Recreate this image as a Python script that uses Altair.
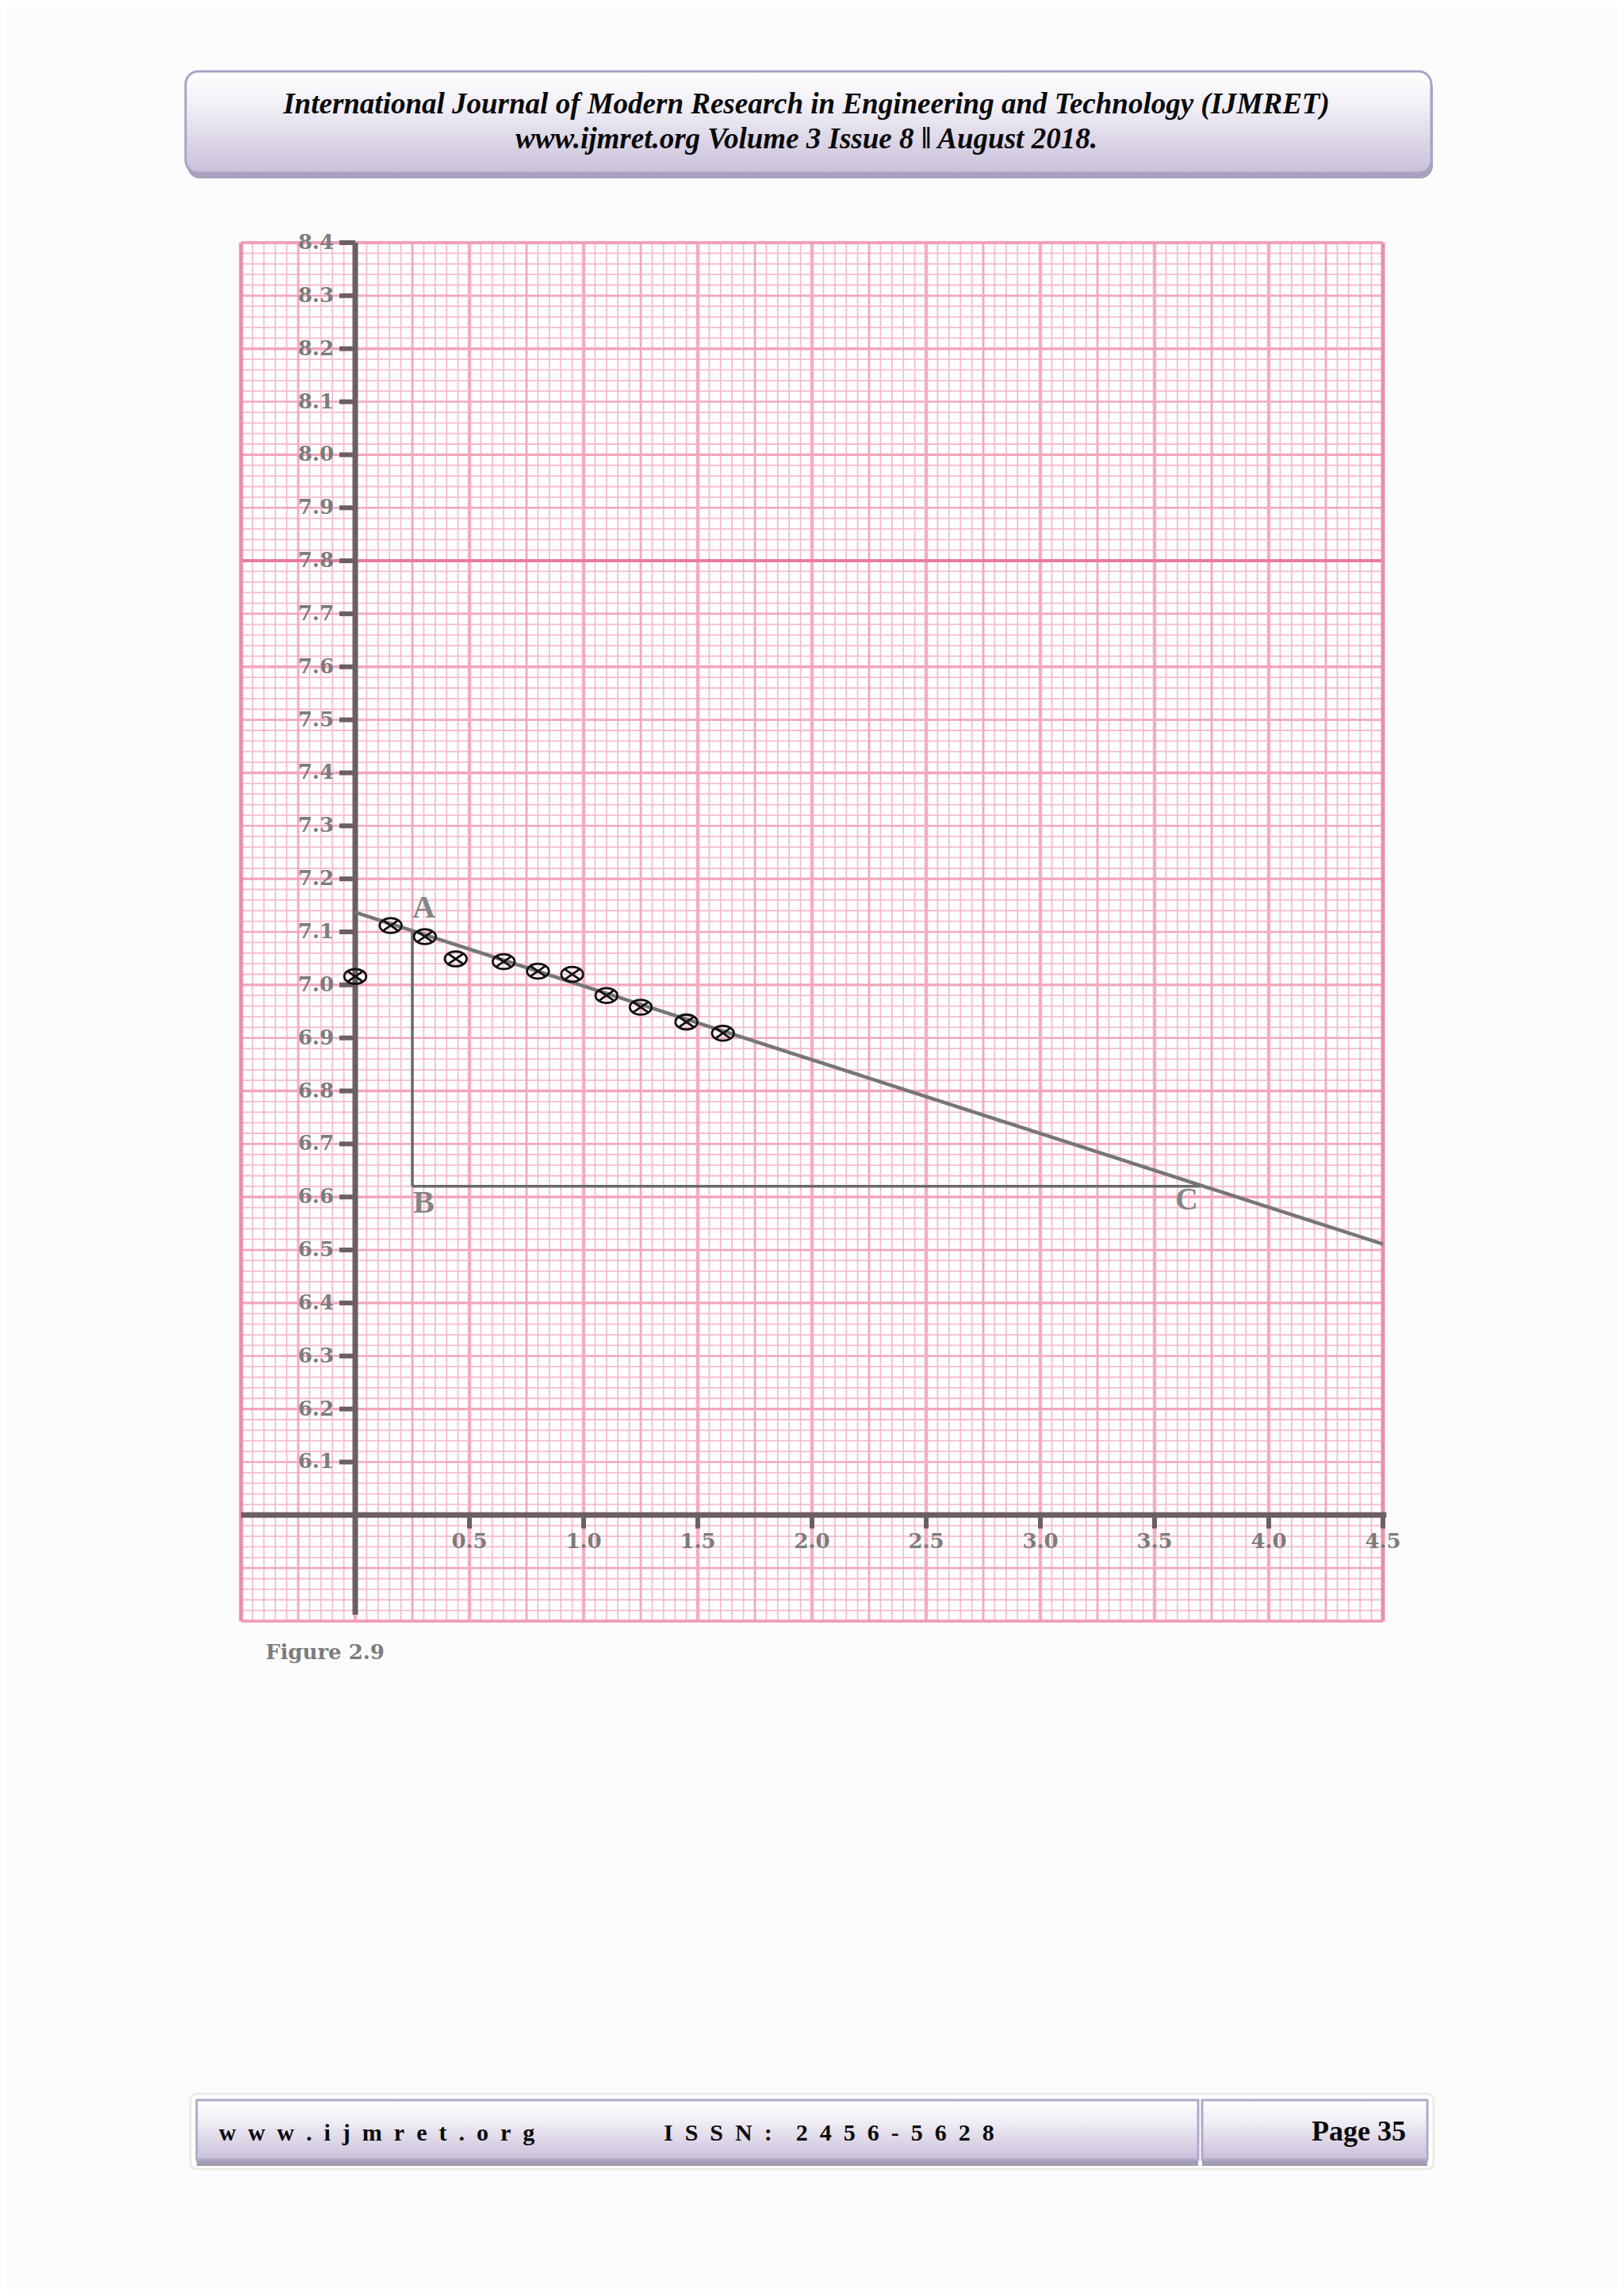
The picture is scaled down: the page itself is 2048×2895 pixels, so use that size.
import altair as alt
import numpy as np
import pandas as pd

# ---------------- data ----------------
pt_x = [0.0, 0.155, 0.305, 0.44, 0.65, 0.80, 0.95, 1.10, 1.25, 1.45, 1.61]
pt_y = [7.016, 7.112, 7.091, 7.049, 7.044, 7.026, 7.020, 6.980, 6.958, 6.930, 6.909]

fit_x = [0.0, 4.5]
fit_y = [7.137, 6.511]

tri_vert_x = [0.25]
tri_vert_y = [7.102]
tri_vert_y2 = [6.62]
tri_hor_x = [0.25]
tri_hor_x2 = [3.70]
tri_hor_y = [6.62]

letters = ["A", "B", "C"]
letter_x = [0.30, 0.30, 3.64]
letter_y = [7.145, 6.588, 6.594]

y_tick_labels = ["6.1", "6.2", "6.3", "6.4", "6.5", "6.6", "6.7", "6.8", "6.9", "7.0",
                 "7.1", "7.2", "7.3", "7.4", "7.5", "7.6", "7.7", "7.8", "7.9", "8.0",
                 "8.1", "8.2", "8.3", "8.4"]
x_tick_labels = ["0.5", "1.0", "1.5", "2.0", "2.5", "3.0", "3.5", "4.0", "4.5"]

X_MIN, X_MAX = -0.5, 4.5
Y_MIN, Y_MAX = 5.8, 8.4

# ---------------- scales ----------------
xs = alt.Scale(domain=[X_MIN, X_MAX], nice=False, zero=False)
ys = alt.Scale(domain=[Y_MIN, Y_MAX], nice=False, zero=False)

def X(f="x"):
    return alt.X(f + ":Q", scale=xs, axis=None)

def Y(f="y"):
    return alt.Y(f + ":Q", scale=ys, axis=None)

# ---------------- graph-paper grid ----------------
vx = np.round(np.arange(0, 101) * 0.05 + X_MIN, 3)
v_idx = np.arange(0, 101)
v_minor = pd.DataFrame({"x": vx[(v_idx % 5) != 0]})
v_med = pd.DataFrame({"x": vx[((v_idx % 5) == 0) & ((v_idx % 10) != 0)]})
v_major = pd.DataFrame({"x": vx[((v_idx % 10) == 0) & (v_idx != 0) & (v_idx != 100)]})

hy = np.round(np.arange(0, 131) * 0.02 + Y_MIN, 3)
h_idx = np.arange(0, 131)
h_minor = pd.DataFrame({"y": hy[(h_idx % 5) != 0]})
h_med = pd.DataFrame({"y": hy[((h_idx % 5) == 0) & ((h_idx % 10) != 0)]})
h_major = pd.DataFrame({"y": hy[((h_idx % 10) == 0) & (h_idx != 0) & (h_idx != 130) & (hy != 7.8)]})

layers = []
layers.append(alt.Chart(v_minor).mark_rule(color="#f7bccd", strokeWidth=1.8).encode(x=X()))
layers.append(alt.Chart(h_minor).mark_rule(color="#f7bccd", strokeWidth=1.8).encode(y=Y()))
layers.append(alt.Chart(v_med).mark_rule(color="#f2a8be", strokeWidth=2.8).encode(x=X()))
layers.append(alt.Chart(h_med).mark_rule(color="#f2a8be", strokeWidth=2.6).encode(y=Y()))
layers.append(alt.Chart(v_major).mark_rule(color="#f4adc2", strokeWidth=4.5).encode(x=X()))
layers.append(alt.Chart(h_major).mark_rule(color="#f2a6bc", strokeWidth=3.4).encode(y=Y()))
layers.append(alt.Chart(pd.DataFrame({"y": [7.8]})).mark_rule(color="#e97aa0", strokeWidth=4).encode(y=Y()))
layers.append(alt.Chart(pd.DataFrame({"x": [X_MIN, X_MAX]})).mark_rule(color="#ec8dac", strokeWidth=5).encode(x=X()))
layers.append(alt.Chart(pd.DataFrame({"y": [Y_MIN, Y_MAX]})).mark_rule(color="#f0a0b8", strokeWidth=4).encode(y=Y()))

# ---------------- axes drawn through the origin ----------------
AXC = "#6c5e64"
layers.append(alt.Chart(pd.DataFrame({"x": [0.0], "y": [5.812], "y2": [Y_MAX]})).mark_rule(
    color=AXC, strokeWidth=7).encode(x=X(), y=Y(), y2="y2:Q"))
layers.append(alt.Chart(pd.DataFrame({"x": [X_MIN], "x2": [4.515], "y": [6.0]})).mark_rule(
    color=AXC, strokeWidth=7).encode(x=X(), x2="x2:Q", y=Y()))

yt = pd.DataFrame({"y": [float(s) for s in y_tick_labels], "lab": y_tick_labels, "x": 0.0})
xt = pd.DataFrame({"x": [float(s) for s in x_tick_labels], "lab": x_tick_labels, "y": 6.0})

TLC = "#7c7c7c"
layers.append(alt.Chart(yt).mark_tick(orient="horizontal", size=20, thickness=6, xOffset=-10,
                                      color=AXC, opacity=1).encode(x=X(), y=Y()))
layers.append(alt.Chart(xt).mark_tick(orient="vertical", size=14, thickness=6, yOffset=10,
                                      color=AXC, opacity=1).encode(x=X(), y=Y()))
layers.append(alt.Chart(yt).mark_text(align="right", baseline="middle", dx=-27, font="DejaVu Serif",
                                      fontWeight="bold", fontSize=26, color=TLC).encode(
    x=X(), y=Y(), text="lab:N"))
layers.append(alt.Chart(xt).mark_text(align="center", baseline="top", dy=21, font="DejaVu Serif",
                                      fontWeight="bold", fontSize=26, color=TLC).encode(
    x=X(), y=Y(), text="lab:N"))

# ---------------- fitted line and triangle ----------------
layers.append(alt.Chart(pd.DataFrame({"x": fit_x, "y": fit_y})).mark_line(
    color="#767676", strokeWidth=4.5, strokeCap="butt").encode(x=X(), y=Y()))
layers.append(alt.Chart(pd.DataFrame({"x": tri_vert_x, "y": tri_vert_y, "y2": tri_vert_y2})).mark_rule(
    color="#6a6a6a", strokeWidth=3.5).encode(x=X(), y=Y(), y2="y2:Q"))
layers.append(alt.Chart(pd.DataFrame({"x": tri_hor_x, "x2": tri_hor_x2, "y": tri_hor_y})).mark_rule(
    color="#6a6a6a", strokeWidth=3.5).encode(x=X(), x2="x2:Q", y=Y()))

# ---------------- points (circle with a cross) ----------------
otimes = ("M -1 0 A 1 0.68 0 1 0 1 0 A 1 0.68 0 1 0 -1 0 Z "
          "M -0.7 -0.48 L 0.7 0.48 M -0.7 0.48 L 0.7 -0.48")
layers.append(alt.Chart(pd.DataFrame({"x": pt_x, "y": pt_y})).mark_point(
    shape=otimes, size=760, filled=False, stroke="#111111", strokeWidth=2.8, opacity=1).encode(
    x=X(), y=Y()))

layers.append(alt.Chart(pd.DataFrame({"x": letter_x, "y": letter_y, "t": letters})).mark_text(
    font="Liberation Serif", fontWeight="bold", fontSize=40, color="#858585",
    align="center", baseline="middle").encode(x=X(), y=Y(), text="t:N"))

# ---------------- page decorations (header, caption, footer) ----------------
one = pd.DataFrame({"a": [0]})
lav = {"gradient": "linear", "x1": 0, "y1": 0, "x2": 0, "y2": 1,
       "stops": [{"offset": 0, "color": "#ffffff"}, {"offset": 0.35, "color": "#f1eef5"},
                 {"offset": 1, "color": "#c9c0da"}]}

def box(x1, x2, y1, y2, **kw):
    return alt.Chart(one).mark_rect(**kw).encode(
        x=alt.value(x1), x2=alt.value(x2), y=alt.value(y1), y2=alt.value(y2))

def txt(x, y, s, **kw):
    return alt.Chart(one).mark_text(text=s, **kw).encode(x=alt.value(x), y=alt.value(y))

# header
layers.append(box(-68, 1503, -210, -81, fill="#a9a1ba", cornerRadius=16))
layers.append(box(-70, 1501, -216, -88, fill=lav, stroke="#aca1c6", strokeWidth=3, cornerRadius=16))
hfont = dict(font="Liberation Serif", fontStyle="italic", fontWeight="bold", fontSize=37,
             color="#0a0a0a", align="center", baseline="alphabetic")
layers.append(txt(713, -163, "International Journal of Modern Research in Engineering and Technology (IJMRET)", **hfont))
layers.append(txt(713, -119, "www.ijmret.org Volume 3 Issue 8 \u01c1 August 2018.", **hfont))

# caption
layers.append(txt(31, 1786, "Figure 2.9", font="DejaVu Serif", fontWeight="bold", fontSize=26,
                  color="#7c7c7c", align="left", baseline="alphabetic"))

# footer
layers.append(box(-64, 1504, 2334, 2429, fill="#ffffff", stroke="#ecece2", strokeWidth=3, cornerRadius=8))
layers.append(box(-56, 1207, 2348, 2425, fill="#a49cb4"))
layers.append(box(1212, 1496, 2348, 2425, fill="#a49cb4"))
layers.append(box(-56, 1207, 2342, 2417, fill=lav, stroke="#b1a9c9", strokeWidth=3))
layers.append(box(1212, 1496, 2342, 2417, fill=lav, stroke="#b1a9c9", strokeWidth=3))
ffont = dict(font="Liberation Serif", fontWeight="bold", color="#0a0a0a", baseline="alphabetic")
sp = "\u2002"
layers.append(txt(-28, 2393, sp.join("www.ijmret.org"), fontSize=30, align="left", **ffont))
layers.append(txt(533, 2393, sp.join("ISSN:") + sp + sp + sp.join("2456-5628"), fontSize=30,
                  align="left", **ffont))
layers.append(txt(1469, 2393, "Page 35", fontSize=36, align="right", **ffont))

chart = alt.layer(*layers).properties(
    width=1440, height=1738,
    padding={"left": 296, "top": 298, "right": 296, "bottom": 843},
    autosize=alt.AutoSizeParams(type="none"),
    background="#fdfcfd",
).configure_view(stroke=None, fill="#ffffff")

chart.save("out.html", embed_options={"renderer": "svg", "actions": False})
